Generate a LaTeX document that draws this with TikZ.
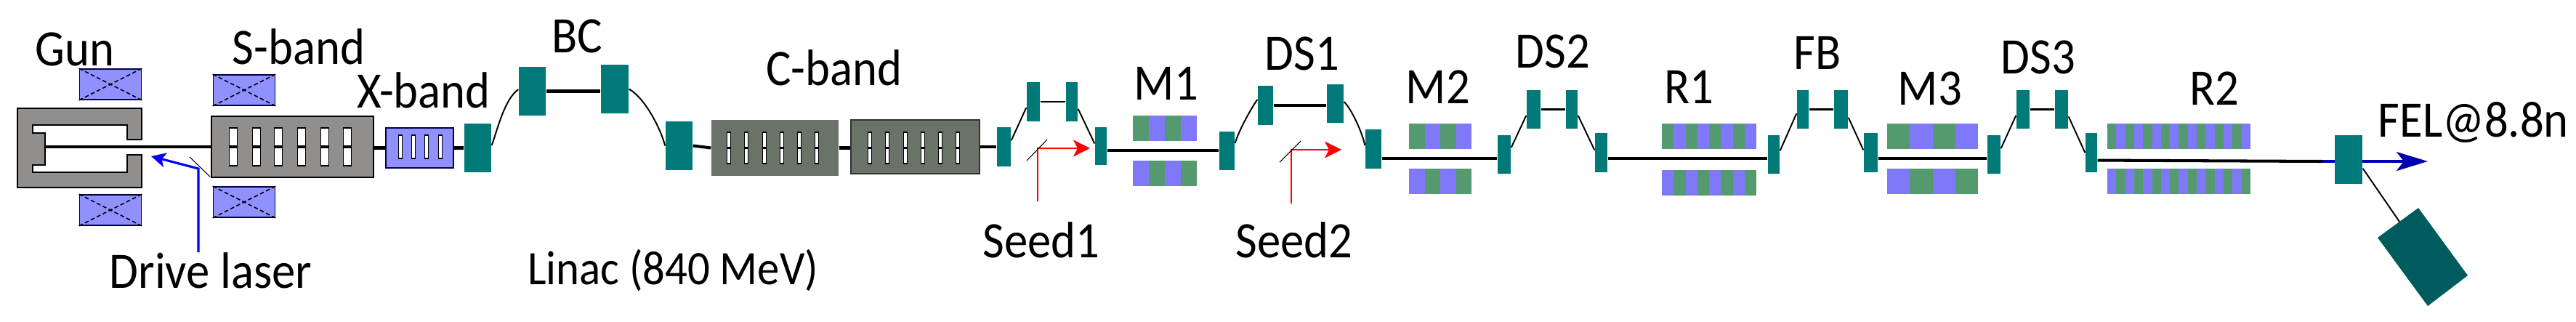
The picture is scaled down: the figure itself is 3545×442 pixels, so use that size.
\documentclass[tikz,border=0pt]{standalone}
\usepackage{fontspec}
\setmainfont[FakeStretch=0.92]{Carlito}
\definecolor{dipolecol}{RGB}{0,122,120}
\definecolor{dumpcol}{RGB}{0,92,92}
\definecolor{solcol}{RGB}{144,144,255}
\definecolor{undblue}{RGB}{127,120,248}
\definecolor{undgreen}{RGB}{85,154,111}
\definecolor{sbandcol}{RGB}{144,143,141}
\definecolor{cbandcol}{RGB}{107,114,104}
\definecolor{felblue}{RGB}{0,0,176}
\usetikzlibrary{arrows.meta}
\usetikzlibrary{calc}
\tikzset{
  pxbox/.style 2 args={rectangle, inner sep=0pt, minimum width=#1*0.01cm, minimum height=#2*0.01cm},
  dipole/.style 2 args={pxbox={#1}{#2}, fill=dipolecol},
  solenoid/.style={pxbox={85}{42}, fill=solcol, draw=black!70!blue, line width=0.5pt},
  slot/.style 2 args={pxbox={#1}{#2}, fill=white, draw=black, line width=0.55pt},
  beam/.style={line width=1.15pt, black},
  shortline/.style={line width=0.8pt, black},
  arcline/.style={line width=0.55pt, black},
  mirror/.style={line width=0.3pt, black},
  lab/.style={font=\fontsize{20}{24}\selectfont, anchor=base, inner sep=0pt},
}
\newcommand{\undrow}[6]{% x, y, segment width, segments, first colour, second colour
  \foreach \i in {1,...,#4} {
    \pgfmathparse{int(mod(\i,2))}
    \ifnum\pgfmathresult=1 \def\segcol{#5}\else \def\segcol{#6}\fi
    \fill[\segcol] ({#1+(\i-1)*#3},#2) rectangle ({#1+\i*#3},#2+35);
  }
}
\begin{document}
\begin{tikzpicture}[x=0.01cm, y=-0.01cm]
\useasboundingbox (0,0) rectangle (3545,442);

% gun
\filldraw[fill=sbandcol, draw=black, line width=0.7pt] (24,149) -- (195,149) -- (195,192) -- (175,192) -- (175,172) -- (45,172) -- (45,183) -- (62,183) -- (62,227) -- (45,227) -- (45,237) -- (175,237) -- (175,213) -- (195,213) -- (195,258) -- (24,258) -- cycle;
\coordinate (gunback) at (62,202);

\node(solgun1)[solenoid] at (152,116) {};
\node(solgun2)[solenoid] at (152,289) {};
\node(solsb1)[solenoid] at (336,124) {};
\node(solsb2)[solenoid] at (336,278) {};
\foreach \n in {solgun1,solgun2,solsb1,solsb2} {
  \draw[line width=0.45pt, dash pattern=on 1.6pt off 1pt] (\n.north west) -- (\n.south east);
  \draw[line width=0.45pt, dash pattern=on 1.6pt off 1pt] (\n.south west) -- (\n.north east);
}

% linac
\node(sband)[pxbox={223}{84}, fill=sbandcol, draw=black, line width=0.8pt] at (402.5,202) {};
\foreach \x [count=\k] in {321,353,383,415,447,478} {
  \node(sslot\k)[slot={11}{52}] at (\x,202) {};
  \draw[beam] (sslot\k.west) -- (sslot\k.east);
}
\node(xband)[pxbox={93}{55}, fill=solcol, draw=black!70!blue, line width=0.8pt] at (577.5,203.5) {};
\foreach \x [count=\k] in {551,569,587,606} {
  \node(xslot\k)[slot={5}{32}, line width=0.5pt] at (\x,202) {};
}
\node(cband1)[pxbox={175}{77}, fill=cbandcol] at (1066.5,203.5) {};
\node(cband2)[pxbox={177}{74}, fill=cbandcol, draw=black!80, line width=0.4pt] at (1259.5,202) {};
\foreach \x [count=\k] in {1003,1027,1052,1076,1100,1124} {
  \node(cslota\k)[slot={4.5}{43}, line width=0.4pt] at (\x,203.5) {};
  \draw[line width=0.6pt] (cslota\k.west) -- (cslota\k.east);
}
\foreach \x [count=\k] in {1197,1221,1246,1270,1294,1318} {
  \node(cslotb\k)[slot={4.5}{43}, line width=0.4pt] at (\x,203.5) {};
  \draw[line width=0.6pt] (cslotb\k.west) -- (cslotb\k.east);
}

% dipoles
\node(bc1)[dipole={37}{67}] at (657.5,203.5) {};
\node(bc2)[dipole={37}{67}] at (732.5,125.5) {};
\node(bc3)[dipole={38}{67}] at (846,122.5) {};
\node(bc4)[dipole={37}{67}] at (934.5,200.5) {};
\node(lh1)[dipole={19}{54}] at (1381.5,202) {};
\node(lh2)[dipole={18}{54}] at (1422,140) {};
\node(lh3)[dipole={16}{54}] at (1475,140) {};
\node(lh4)[dipole={16}{52}] at (1515,201) {};
\node(dsa1)[dipole={21}{53}] at (1688.5,207.5) {};
\node(dsa2)[dipole={21}{54}] at (1741.5,145) {};
\node(dsa3)[dipole={23}{53}] at (1837.5,142.5) {};
\node(dsa4)[dipole={22}{54}] at (1890,205) {};
\node(dsb1)[dipole={18}{53}] at (2070,212.5) {};
\node(dsb2)[dipole={19}{53}] at (2110.5,150.5) {};
\node(dsb3)[dipole={16}{53}] at (2163,150.5) {};
\node(dsb4)[dipole={17}{54}] at (2203.5,210) {};
\node(fb1)[dipole={16}{53}] at (2441,212.5) {};
\node(fb2)[dipole={16}{53}] at (2481,150.5) {};
\node(fb3)[dipole={19}{53}] at (2533.5,150.5) {};
\node(fb4)[dipole={19}{54}] at (2574.5,210) {};
\node(dsc1)[dipole={18}{53}] at (2744,212.5) {};
\node(dsc2)[dipole={18}{53}] at (2784,150.5) {};
\node(dsc3)[dipole={18}{53}] at (2837,150.5) {};
\node(dsc4)[dipole={16}{54}] at (2878,210) {};

% modulators and radiators
\undrow{1559}{159}{22}{4}{undgreen}{undblue}
\undrow{1559}{221}{22}{4}{undblue}{undgreen}
\undrow{1939}{170}{21.5}{4}{undgreen}{undblue}
\undrow{1939}{232}{21.5}{4}{undblue}{undgreen}
\undrow{2287}{170}{16.25}{8}{undgreen}{undblue}
\undrow{2287}{234}{16.25}{8}{undblue}{undgreen}
\undrow{2597}{170}{31.25}{4}{undgreen}{undblue}
\undrow{2597}{232}{31.25}{4}{undblue}{undgreen}
\undrow{2900}{170}{12.3}{16}{undgreen}{undblue}
\undrow{2900}{232}{12.3}{16}{undblue}{undgreen}

% beam line
\draw[beam] (gunback) -- (gunback -| sband.west);
\draw[beam] (sband.east |- xband) -- (xband.west);
\draw[beam] (xband.east) -- (bc1.west);
\draw[beam] (bc2.east) -- (bc2.east -| bc3.west);
\draw[beam] (bc4.east) -- (cband1.west);
\draw[beam] (cband1.east) -- (cband1.east -| cband2.west);
\draw[beam] (cband2.east) -- (lh1.west);
\draw[shortline] (lh2.east) -- (lh3.west);
\draw[beam] ([yshift=-1.7pt]lh4.east) -- ([yshift=-1.7pt]lh4.east -| dsa1.west);
\draw[beam] (dsa2.east) -- (dsa2.east -| dsa3.west);
\draw[beam] ([yshift=-3.7pt]dsa4.east) -- ([yshift=-3.7pt]dsa4.east -| dsb1.west);
\draw[shortline] (dsb2.east) -- (dsb3.west);
\draw[beam] ([yshift=-2.3pt]dsb4.east) -- ([yshift=-2.3pt]dsb4.east -| fb1.west);
\draw[shortline] (fb2.east) -- (fb3.west);
\draw[beam] ([yshift=-2.3pt]fb4.east) -- ([yshift=-2.3pt]fb4.east -| dsc1.west);
\draw[shortline] (dsc2.east) -- (dsc3.west);
\coordinate (felstart) at (3196,222);
\coordinate (feltip) at (3341,222);
\coordinate (dumpin) at (3302,305);
\draw[beam] ([yshift=-3pt]dsc4.east) -- (felstart);
\draw[line width=1pt, felblue, -{Stealth[length=0.43cm, width=0.26cm, inset=0.1cm]}] (felstart) -- (feltip);
\node(outdip)[dipole={38}{67}] at (3232,219.5) {};

% chicane arcs
\draw[arcline] ([yshift=1pt]bc1.east) to [out=70, in=215, looseness=0.7] ([yshift=0.7pt]bc2.west);
\draw[arcline] (bc3.east) to [out=-30, in=105, looseness=0.7] (bc4.west);
\draw[arcline] ([yshift=2.5pt]lh1.east) -- ([yshift=-2.3pt]lh2.west);
\draw[arcline] ([yshift=-2.8pt]lh3.east) -- ([yshift=1pt]lh4.west);
\draw[arcline] ([yshift=3pt]dsa1.east) to [out=75, in=235, looseness=0.6] ([yshift=2.3pt]dsa2.west);
\draw[arcline] ([yshift=0.7pt]dsa3.east) to [out=-45, in=100, looseness=0.6] ([yshift=1.4pt]dsa4.west);
\draw[arcline] ([yshift=2.7pt]dsb1.east) -- ([yshift=-2.4pt]dsb2.west);
\draw[arcline] ([yshift=-2.4pt]dsb3.east) -- ([yshift=1pt]dsb4.west);
\draw[arcline] ([yshift=1.5pt]fb1.east) -- ([yshift=-1.6pt]fb2.west);
\draw[arcline] ([yshift=-3.2pt]fb3.east) -- ([yshift=1pt]fb4.west);
\draw[arcline] ([yshift=2.4pt]dsc1.east) -- ([yshift=-2.4pt]dsc2.west);
\draw[arcline] ([yshift=-2.8pt]dsc3.east) -- (dsc4.west);

% dump
\filldraw[fill=dumpcol, draw=none] (3328,286) -- (3272,327) -- (3341,421) -- (3396,379) -- cycle;
\draw[arcline] ([yshift=-3.5pt]outdip.east) -- (dumpin);

% lasers
\coordinate (drive0) at (273,347);
\coordinate (drive1) at (273,232);
\coordinate (drive2) at (208,215);
\draw[line width=0.9pt, blue, -{Stealth[length=0.2cm, width=0.2cm, inset=0.05cm]}] (drive0) -- (drive1) -- (drive2);
\draw[mirror] (261,216) -- (289,243);
\coordinate (seedi0) at (1428,277);
\coordinate (seedi1) at (1428,204);
\coordinate (seedi2) at (1500,204);
\draw[line width=0.75pt, red, -{Stealth[length=0.23cm, width=0.23cm, inset=0.06cm]}] (seedi0) -- (seedi1) -- (seedi2);
\draw[mirror] (1413,221) -- (1441,192);
\coordinate (seedj0) at (1777,280);
\coordinate (seedj1) at (1777,206);
\coordinate (seedj2) at (1846,206);
\draw[line width=0.75pt, red, -{Stealth[length=0.23cm, width=0.23cm, inset=0.06cm]}] (seedj0) -- (seedj1) -- (seedj2);
\draw[mirror] (1761,223) -- (1790,194);

% labels
\node(gunlab)[lab] at (103,90) {Gun};
\node(sbandlab)[lab] at (411,88) {S-band};
\node(xbandlab)[lab] at (583,148) {X-band};
\node(bclab)[lab] at (794,72) {BC};
\node(drivelab)[lab] at (290,396) {Drive laser};
\node(linaclab)[lab, font=\fontsize{18.8}{22}\selectfont] at (926,391) {Linac (840 MeV)};
\node(cbandlab)[lab] at (1148,117) {C-band};
\node(mlab1)[lab] at (1605,137) {M1};
\node(seedlab1)[lab] at (1433,354) {Seed1};
\node(dslab1)[lab] at (1792,96) {DS1};
\node(seedlab2)[lab] at (1781,354) {Seed2};
\node(mlab2)[lab] at (1979,142) {M2};
\node(dslab2)[lab] at (2137,93) {DS2};
\node(rlab1)[lab] at (2324,142) {R1};
\node(fblab)[lab] at (2501,95) {FB};
\node(mlab3)[lab] at (2656,144) {M3};
\node(dslab3)[lab] at (2805,101) {DS3};
\node(rlab2)[lab] at (3047,144) {R2};
\node(fellab)[lab, anchor=base west] at (3272,188) {FEL@8.8n};
\end{tikzpicture}
\end{document}
